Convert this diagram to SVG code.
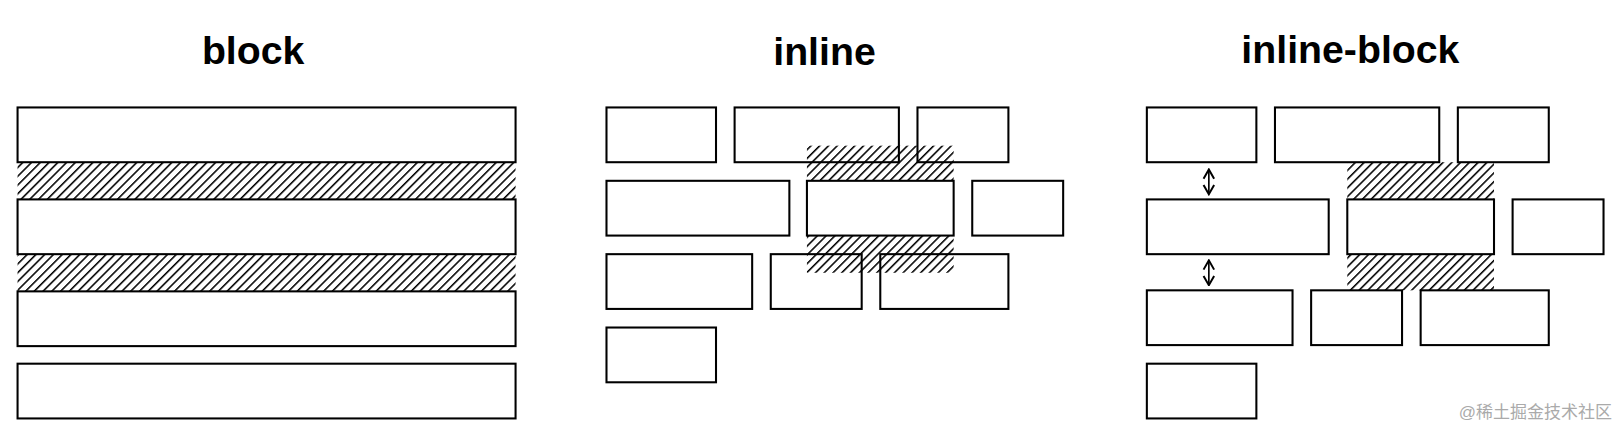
<svg xmlns="http://www.w3.org/2000/svg" width="1620" height="433" viewBox="0 0 1620 433">
<style>
.b{fill:none;stroke:#000;stroke-width:2}
.w{fill:#fff;stroke:#000;stroke-width:2}
.t{font-family:"Liberation Sans",Arial,sans-serif;font-weight:bold;font-size:38px;text-anchor:middle}
.h{fill:url(#hatch)}
.a{stroke:#000;stroke-width:1.6;fill:none}
</style>
<defs>
<pattern id="hatch" patternUnits="userSpaceOnUse" width="6" height="6" patternTransform="rotate(45)">
<rect width="6" height="6" fill="#fff"/><line x1="0" y1="0" x2="0" y2="6" stroke="#000" stroke-width="3"/>
</pattern>
<marker id="ah" viewBox="0 0 10 10" refX="9" refY="5" markerWidth="8" markerHeight="8" orient="auto-start-reverse"><path d="M2,1 L9,5 L2,9" fill="none" stroke="#000" stroke-width="1.5"/></marker>
</defs>
<rect width="1620" height="433" fill="#fff"/>
<g transform="scale(1.0332)">
<text class="t" x="245" y="62">block</text>
<text class="t" x="798" y="63">inline</text>
<text class="t" x="1307" y="61">inline-block</text>
<g id="hatches">
<rect class="h" x="17" y="157" width="482" height="36"/>
<rect class="h" x="17" y="246" width="482" height="36"/>
<rect class="h" x="781" y="141" width="142" height="123"/>
<rect class="h" x="1304" y="157" width="142" height="124"/>
</g>
<g id="block">
<rect class="b" x="17" y="104" width="482" height="53"/>
<rect class="b" x="17" y="193" width="482" height="53"/>
<rect class="b" x="17" y="282" width="482" height="53"/>
<rect class="b" x="17" y="352" width="482" height="53"/>
</g>
<g id="inline">
<rect class="b" x="587" y="104" width="106" height="53"/>
<rect class="b" x="711" y="104" width="159" height="53"/>
<rect class="b" x="888" y="104" width="88" height="53"/>
<rect class="b" x="587" y="175" width="177" height="53"/>
<rect class="w" x="781" y="175" width="142" height="53"/>
<rect class="b" x="941" y="175" width="88" height="53"/>
<rect class="b" x="587" y="246" width="141" height="53"/>
<rect class="b" x="746" y="246" width="88" height="53"/>
<rect class="b" x="852" y="246" width="124" height="53"/>
<rect class="b" x="587" y="317" width="106" height="53"/>
</g>
<g id="inline-block">
<rect class="b" x="1110" y="104" width="106" height="53"/>
<rect class="b" x="1234" y="104" width="159" height="53"/>
<rect class="b" x="1411" y="104" width="88" height="53"/>
<rect class="b" x="1110" y="193" width="176" height="53"/>
<rect class="w" x="1304" y="193" width="142" height="53"/>
<rect class="b" x="1464" y="193" width="88" height="53"/>
<rect class="b" x="1110" y="281" width="141" height="53"/>
<rect class="b" x="1269" y="281" width="88" height="53"/>
<rect class="b" x="1375" y="281" width="124" height="53"/>
<rect class="b" x="1110" y="352" width="106" height="53"/>
</g>
<g id="connectors">
<line class="a" x1="1170" y1="164" x2="1170" y2="188" marker-start="url(#ah)" marker-end="url(#ah)"/>
<line class="a" x1="1170" y1="252" x2="1170" y2="276" marker-start="url(#ah)" marker-end="url(#ah)"/>
</g>
</g>
<text x="1612" y="418" font-family="Liberation Sans,'Noto Sans CJK SC',sans-serif" font-size="17" fill="#aaa" text-anchor="end">@稀土掘金技术社区</text>
</svg>
